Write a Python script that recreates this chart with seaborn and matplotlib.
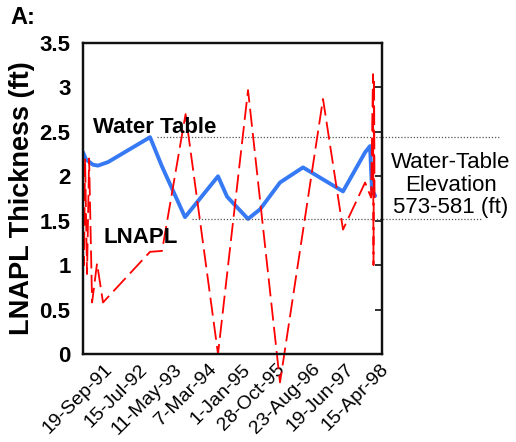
import matplotlib
matplotlib.use("Agg")
import matplotlib.pyplot as plt
import matplotlib.transforms as mtransforms
import seaborn as sns
import pandas as pd

# ---- data ----
wt_dates = ["1991-03-20", "1991-04-15", "1991-06-15", "1991-07-28", "1991-10-24",
            "1992-10-23", "1993-02-04", "1993-08-23", "1994-06-06", "1994-08-24",
            "1995-02-22", "1995-06-08", "1995-11-27", "1996-06-14", "1997-05-28",
            "1997-12-06", "1998-01-18", "1998-02-04", "1998-03-03"]
wt_elev = [578.54, 578.38, 578.26, 578.24, 578.32,
           578.88, 578.22, 577.08, 578.00, 577.54,
           577.04, 577.26, 577.86, 578.20, 577.66,
           578.54, 578.68, 577.70, 577.56]

lnapl_dates = ["1991-03-20", "1991-03-29", "1991-04-07", "1991-04-24", "1991-05-12",
               "1991-06-07", "1991-07-20", "1991-09-10", "1992-10-23", "1993-02-04",
               "1993-08-28", "1994-06-06", "1995-02-22", "1995-11-27", "1996-12-05",
               "1997-05-28", "1997-12-06", "1998-01-27", "1998-02-13", "1998-02-17",
               "1998-02-22", "1998-02-26"]
lnapl_ft = [2.20, 1.00, 2.20, 0.90, 2.20,
            0.58, 1.02, 0.58, 1.15, 1.16,
            2.70, 0.00, 2.97, -0.32, 2.87,
            1.40, 1.93, 1.76, 3.15, 1.00,
            3.10, 1.75]

tick_dates = ["1991-09-19", "1992-07-15", "1993-05-11", "1994-03-07", "1995-01-01",
              "1995-10-28", "1996-08-23", "1997-06-19", "1998-04-15"]
tick_labels = ["19-Sep-91", "15-Jul-92", "11-May-93", "7-Mar-94", "1-Jan-95",
               "28-Oct-95", "23-Aug-96", "19-Jun-97", "15-Apr-98"]
x_range = ["1991-03-20", "1998-05-02"]
y_ticks = [0, 0.5, 1, 1.5, 2, 2.5, 3, 3.5]
y_tick_labels = ["0", "0.5", "1", "1.5", "2", "2.5", "3", "3.5"]
elev_range = [574, 581]
elev_ticks = [575, 576, 577, 578, 579, 580]

wt = pd.DataFrame({"date": pd.to_datetime(wt_dates), "elev": wt_elev})
ln = pd.DataFrame({"date": pd.to_datetime(lnapl_dates), "thick": lnapl_ft})

# ---- style ----
sns.set_theme(style="white")
plt.rcParams["font.family"] = ["Liberation Sans", "DejaVu Sans"]
for k in ("text.color", "axes.labelcolor", "xtick.color", "ytick.color"):
    plt.rcParams[k] = "black"

fig = plt.figure(figsize=(5.16, 4.42), dpi=100)
ax = fig.add_axes([83 / 516, 1 - 354 / 442, 299 / 516, 311 / 442])
ax2 = ax.twinx()
ax.set_zorder(ax2.get_zorder() + 1)
ax.patch.set_visible(False)

# LNAPL thickness (red dashed)
sns.lineplot(data=ln, x="date", y="thick", ax=ax, color="#FF0000", linewidth=1.3,
             estimator=None, sort=False, dashes=False)
line = ax.lines[-1]
line.set_dashes((10, 3.5))
line.set_clip_on(False)

# Water-table elevation (blue)
sns.lineplot(data=wt, x="date", y="elev", ax=ax2, color="#3679F5", linewidth=2.8,
             estimator=None, sort=False)

ax.set_xlim(pd.to_datetime(x_range[0]), pd.to_datetime(x_range[1]))
ax.set_ylim(y_ticks[0], y_ticks[-1])
ax2.set_ylim(elev_range[0], elev_range[1])

ax.set_yticks(y_ticks)
ax.set_yticklabels(y_tick_labels, fontsize=16, fontweight="bold")
ax.set_xticks(pd.to_datetime(tick_dates))
ax.set_xticklabels(tick_labels, rotation=45, ha="right", rotation_mode="anchor",
                   fontsize=14)
ax.tick_params(axis="x", length=0, pad=5)
ax.tick_params(axis="y", length=0, pad=9)
ax.set_xlabel("")
ax.set_ylabel("LNAPL Thickness (ft)", fontsize=19.5, fontweight="bold", labelpad=3)

ax2.set_yticks(elev_ticks)
ax2.set_yticklabels([])
ax2.tick_params(axis="y", which="major", direction="in", length=5, width=1.3,
                color="#222222", right=True, left=False)
ax2.yaxis.set_ticks_position("right")
ax2.set_ylabel("")

for a in (ax, ax2):
    for s in a.spines.values():
        s.set_color("#111111")
        s.set_linewidth(1.6)

# dotted reference lines for max / min water-table elevation
trans = mtransforms.blended_transform_factory(ax2.transAxes, ax2.transData)
ax2.plot([0.247, 1.395], [max(wt_elev)] * 2, transform=trans, color="#555555",
         linestyle=(0, (1, 1.5)), linewidth=0.9, clip_on=False)
ax2.plot([0.365, 1.33], [min(wt_elev)] * 2, transform=trans, color="#555555",
         linestyle=(0, (1, 1.5)), linewidth=0.9, clip_on=False)

# annotations
ax.text(0.033, 0.727, "Water Table", transform=ax.transAxes, fontsize=16,
        fontweight="bold", ha="left", va="center")
ax.text(0.07, 0.373, "LNAPL", transform=ax.transAxes, fontsize=16,
        fontweight="bold", ha="left", va="center")
fig.text(451 / 516, 1 - 185 / 442, "Water-Table\nElevation\n573-581 (ft)",
         fontsize=16, ha="center", va="center", linespacing=1.12)
fig.text(10 / 516, 1 - 18 / 442, "A:", fontsize=17, fontweight="bold",
         ha="left", va="center")

fig.savefig("out.png", dpi=100)
